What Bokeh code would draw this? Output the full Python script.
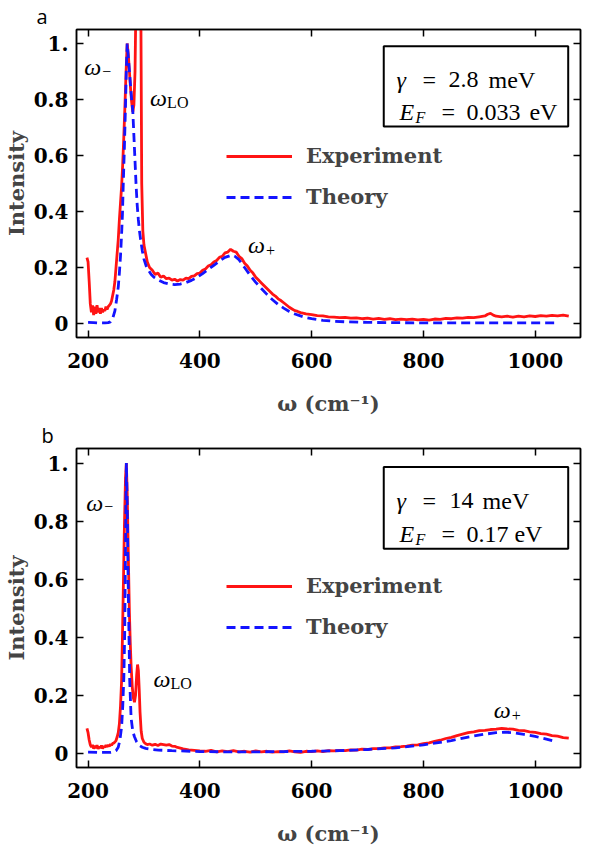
from bokeh.plotting import figure
from bokeh.models import Range1d, FixedTicker, LinearAxis, Label, BoxAnnotation, Legend, LegendItem, Title
from bokeh.layouts import column
from bokeh.embed import file_html
from bokeh.resources import INLINE

# ---------------- data ----------------
X_TICKS = [200, 400, 600, 800, 1000]
Y_TICKS = [0, 0.2, 0.4, 0.6, 0.8, 1.0]
Y_TICK_LABELS = ["0", "0.2", "0.4", "0.6", "0.8", "1."]

SERIES_NAMES = ["Experiment", "Theory"]

exp_a_x = [198, 200, 202, 204, 206, 208, 210, 212, 214, 216, 218, 220, 222, 224, 226, 228, 230, 232, 234, 236,
           238, 240, 242, 244, 246, 248, 250, 252, 254, 256, 258, 260, 262, 264, 266, 268, 270, 272, 274, 276,
           278, 280, 282, 284, 286, 288, 290, 292, 294, 296, 298, 300, 303, 306, 310, 315, 320, 325, 330, 335,
           340, 345, 350, 355, 360, 365, 370, 375, 380, 385, 390, 395, 400, 405, 410, 415, 420, 425, 430, 435,
           440, 445, 450, 455, 460, 465, 470, 475, 480, 485, 490, 495, 500, 505, 510, 515, 520, 525, 530, 535,
           540, 545, 550, 555, 560, 565, 570, 575, 580, 590, 600, 610, 620, 630, 640, 650, 660, 670, 680, 690,
           700, 710, 720, 730, 740, 750, 760, 770, 780, 790, 800, 810, 820, 830, 840, 850, 860, 870, 880, 890,
           900, 910, 915, 920, 925, 930, 940, 950, 960, 970, 980, 990, 1000, 1010, 1020, 1030, 1040, 1050, 1060]
exp_a_y = [0.235, 0.22, 0.15, 0.07, 0.04, 0.065, 0.03, 0.06, 0.035, 0.065, 0.04, 0.055, 0.035, 0.055, 0.04, 0.05,
           0.045, 0.06, 0.05, 0.06, 0.065, 0.07, 0.08, 0.1, 0.12, 0.15, 0.2, 0.25, 0.3, 0.37, 0.43, 0.49, 0.57,
           0.67, 0.78, 0.9, 1.0, 0.96, 0.9, 0.84, 0.79, 0.755, 0.78, 0.9, 1.2, 1.7, 2.1, 1.9, 1.3, 0.5, 0.33, 0.28,
           0.25, 0.22, 0.2, 0.19, 0.175, 0.18, 0.165, 0.17, 0.16, 0.162, 0.155, 0.158, 0.152, 0.157, 0.155, 0.162,
           0.16, 0.168, 0.17, 0.178, 0.18, 0.19, 0.195, 0.205, 0.21, 0.22, 0.225, 0.236, 0.24, 0.252, 0.255, 0.265,
           0.258, 0.255, 0.24, 0.232, 0.215, 0.205, 0.19, 0.18, 0.165, 0.155, 0.145, 0.135, 0.125, 0.115, 0.105,
           0.098, 0.088, 0.082, 0.074, 0.066, 0.058, 0.052, 0.046, 0.043, 0.039, 0.034, 0.032, 0.028, 0.027, 0.024,
           0.023, 0.021, 0.022, 0.019, 0.02, 0.017, 0.019, 0.016, 0.018, 0.015, 0.017, 0.014, 0.016, 0.014, 0.016,
           0.013, 0.015, 0.012, 0.016, 0.015, 0.018, 0.017, 0.02, 0.019, 0.022, 0.021, 0.024, 0.027, 0.033, 0.036,
           0.03, 0.026, 0.024, 0.026, 0.023, 0.026, 0.024, 0.027, 0.025, 0.028, 0.026, 0.029, 0.027, 0.03, 0.026]

theory_a_x = [200, 210, 220, 230, 236, 240, 244, 248, 251, 254, 256, 258, 260, 261.5, 263, 265, 267, 268.5, 270,
              272, 274, 276, 278, 280, 282, 284, 286, 288, 290, 292, 294, 297, 300, 304, 308, 313, 318, 326, 335,
              345, 355, 365, 375, 385, 395, 405, 415, 425, 435, 445, 455, 462, 470, 480, 490, 500, 510, 520, 530,
              540, 550, 560, 570, 580, 590, 600, 620, 640, 660, 700, 750, 800, 900, 1000, 1038]
theory_a_y = [0.004, 0.003, 0.002, 0.002, 0.003, 0.006, 0.018, 0.045, 0.085, 0.13, 0.18, 0.24, 0.32, 0.39, 0.5,
              0.63, 0.78, 0.91, 1.0, 0.95, 0.9, 0.85, 0.8, 0.76, 0.67, 0.58, 0.49, 0.42, 0.37, 0.33, 0.3, 0.26, 0.23,
              0.205, 0.19, 0.175, 0.165, 0.155, 0.146, 0.141, 0.139, 0.141, 0.146, 0.154, 0.165, 0.178, 0.193, 0.208,
              0.223, 0.236, 0.243, 0.241, 0.228, 0.2, 0.172, 0.147, 0.125, 0.104, 0.085, 0.068, 0.055, 0.043, 0.034,
              0.027, 0.021, 0.017, 0.011, 0.008, 0.006, 0.004, 0.003, 0.002, 0.002, 0.002, 0.002]

exp_b_x = [198, 200, 202, 204, 206, 208, 210, 212, 214, 216, 218, 220, 222, 224, 226, 228, 230, 232, 234, 236,
           238, 240, 242, 244, 246, 248, 250, 252, 254, 256, 258, 260, 261.5, 263, 265, 267, 268.5, 270, 272, 274,
           275.5, 277, 279, 281, 283, 285, 287, 288.5, 290, 291.5, 293, 295, 297, 300, 303, 306, 310, 315, 320,
           325, 330, 335, 340, 345, 350, 355, 360, 365, 370, 380, 390, 400, 410, 420, 430, 440, 450, 460, 470,
           480, 490, 500, 510, 520, 530, 540, 550, 560, 570, 580, 590, 600, 610, 620, 630, 640, 650, 660, 670,
           680, 690, 700, 710, 720, 730, 740, 750, 760, 770, 780, 790, 800, 810, 820, 830, 840, 850, 860, 870,
           880, 890, 900, 910, 920, 930, 940, 950, 960, 970, 980, 990, 1000, 1010, 1020, 1030, 1040, 1050, 1060]
exp_b_y = [0.085, 0.07, 0.045, 0.028, 0.02, 0.028, 0.015, 0.025, 0.017, 0.027, 0.014, 0.022, 0.017, 0.026, 0.015,
           0.024, 0.019, 0.027, 0.021, 0.028, 0.023, 0.03, 0.027, 0.033, 0.034, 0.038, 0.043, 0.055, 0.07, 0.1,
           0.16, 0.25, 0.4, 0.56, 0.78, 0.95, 1.0, 0.9, 0.68, 0.48, 0.38, 0.3, 0.23, 0.19, 0.175, 0.2, 0.27, 0.305,
           0.285, 0.22, 0.14, 0.075, 0.05, 0.037, 0.032, 0.029, 0.031, 0.027, 0.03, 0.026, 0.031, 0.029, 0.027,
           0.029, 0.024, 0.023, 0.019, 0.017, 0.014, 0.011, 0.009, 0.007, 0.006, 0.009, 0.004, 0.007, 0.005, 0.008,
           0.004, 0.006, 0.003, 0.007, 0.004, 0.006, 0.003, 0.005, 0.004, 0.007, 0.004, 0.002, 0.006, 0.005, 0.007,
           0.005, 0.008, 0.007, 0.009, 0.008, 0.011, 0.01, 0.013, 0.012, 0.015, 0.015, 0.018, 0.018, 0.021, 0.022,
           0.024, 0.027, 0.028, 0.032, 0.035, 0.04, 0.044, 0.05, 0.054, 0.06, 0.065, 0.07, 0.073, 0.077, 0.078,
           0.081, 0.082, 0.085, 0.083, 0.082, 0.078, 0.077, 0.073, 0.071, 0.067, 0.065, 0.06, 0.058, 0.053, 0.051]

theory_b_x = [200, 220, 240, 246, 250, 254, 257, 260, 262, 264, 265.5, 267, 268.5, 270, 271.5, 273, 274.5, 277,
              280, 283, 287, 291, 297, 303, 315, 326, 350, 400, 450, 500, 550, 600, 650, 700, 750, 800, 850, 880,
              910, 930, 945, 960, 980, 1000, 1020, 1038]
theory_b_y = [0.003, 0.002, 0.002, 0.004, 0.008, 0.02, 0.045, 0.09, 0.16, 0.26, 0.41, 0.7, 1.0, 0.86, 0.62, 0.43,
              0.25, 0.12, 0.075, 0.056, 0.038, 0.027, 0.02, 0.016, 0.012, 0.01, 0.008, 0.005, 0.004, 0.004, 0.005,
              0.006, 0.008, 0.012, 0.018, 0.028, 0.043, 0.055, 0.065, 0.07, 0.072, 0.07, 0.064, 0.057, 0.048, 0.039]

PARAMS_A = ("2.8", "0.033")
PARAMS_B = ("14", "0.17")

# ---------------- styling ----------------
BOLD_FONT = "DejaVu Serif"
MATH_FONT = "Liberation Serif"
RED = "#ff1414"
BLUE = "#1414ff"
X_START, X_END = 179.3, 1081
Y_START, Y_END = -0.05, 1.05


def style_axis(ax, ticks, show_labels):
    ax.ticker = FixedTicker(ticks=ticks)
    ax.major_tick_in = 7
    ax.major_tick_out = 0
    ax.minor_tick_in = 0
    ax.minor_tick_out = 0
    ax.axis_line_color = "black"
    ax.axis_line_width = 1.5
    ax.major_tick_line_color = "black"
    ax.major_tick_line_width = 1.5
    if show_labels:
        ax.major_label_text_font = BOLD_FONT
        ax.major_label_text_font_style = "bold"
        ax.major_label_text_font_size = "20px"
        ax.major_label_text_color = "black"
    else:
        ax.major_label_text_color = None
        ax.major_label_text_font_size = "2px"
        ax.major_label_standoff = 0


def put(p, x, y, text, dx=0, dy=0, size="24px", style="normal", font=MATH_FONT):
    p.add_layout(Label(x=x, y=y, text=text, x_offset=dx, y_offset=dy, text_font=font,
                       text_font_size=size, text_font_style=style, text_align="left",
                       text_baseline="alphabetic", text_color="black"))


def make_panel(ex, ey, tx, ty, height, border_top, letter, letter_dx, legend_y):
    title = Title(text=letter, align="left", offset=letter_dx, standoff=0,
                  text_font="Open Sans", text_font_size="20px", text_font_style="normal",
                  text_color="black")
    p = figure(width=584, height=height, x_range=Range1d(X_START, X_END), y_range=Range1d(Y_START, Y_END),
               output_backend="svg", toolbar_location=None, title=title,
               min_border_left=67, min_border_right=4, min_border_top=border_top,
               min_border_bottom=0)
    p.xgrid.visible = False
    p.ygrid.visible = False
    p.outline_line_color = "black"
    p.outline_line_width = 1.5
    p.background_fill_color = "white"

    style_axis(p.xaxis[0], X_TICKS, True)
    style_axis(p.yaxis[0], Y_TICKS, True)
    p.yaxis[0].major_label_overrides = {t: s for t, s in zip(Y_TICKS, Y_TICK_LABELS)}
    p.xaxis[0].major_label_standoff = 15
    p.yaxis[0].major_label_standoff = 8

    p.xaxis[0].axis_label = "\u03c9 (cm\u207b\u00b9)"
    p.xaxis[0].axis_label_text_font = BOLD_FONT
    p.xaxis[0].axis_label_text_font_style = "bold"
    p.xaxis[0].axis_label_text_font_size = "21px"
    p.xaxis[0].axis_label_standoff = 20
    p.yaxis[0].axis_label = "Intensity"
    p.yaxis[0].axis_label_text_font = BOLD_FONT
    p.yaxis[0].axis_label_text_font_style = "bold"
    p.yaxis[0].axis_label_text_font_size = "21px"
    p.yaxis[0].axis_label_standoff = 2

    top = LinearAxis()
    style_axis(top, X_TICKS, False)
    p.add_layout(top, "above")
    right = LinearAxis()
    style_axis(right, Y_TICKS, False)
    p.add_layout(right, "right")

    r_exp = p.line(ex, ey, line_color=RED, line_width=2.8)
    r_th = p.line(tx, ty, line_color=BLUE, line_width=2.8, line_dash="9 5")

    legend = Legend(items=[LegendItem(label=SERIES_NAMES[0], renderers=[r_exp]),
                           LegendItem(label=SERIES_NAMES[1], renderers=[r_th])],
                    location=(150, legend_y), glyph_width=66, glyph_height=24, label_height=24,
                    spacing=16, padding=0, margin=0, label_standoff=14,
                    border_line_alpha=0, background_fill_alpha=0,
                    label_text_font=BOLD_FONT, label_text_font_style="bold",
                    label_text_font_size="21px")
    p.add_layout(legend)
    return p


pa = make_panel(exp_a_x, exp_a_y, theory_a_x, theory_a_y, 418, 0, "a", -40, 128)
pb = make_panel(exp_b_x, exp_b_y, theory_b_x, theory_b_y, 430, 30, "b", -35, 128)

# annotations panel a
put(pa, 193, 0.915, "\u03c9", style="italic")
put(pa, 193, 0.915, "\u2212", dx=18, dy=-4, size="16px")
put(pa, 311, 0.807, "\u03c9", style="italic")
put(pa, 311, 0.807, "LO", dx=17, dy=-5, size="16px")
put(pa, 486, 0.279, "\u03c9", style="italic")
put(pa, 486, 0.279, "+", dx=18, dy=-5, size="16px")

# annotations panel b
put(pb, 196.6, 0.863, "\u03c9", style="italic")
put(pb, 196.6, 0.863, "\u2212", dx=18, dy=-4, size="16px")
put(pb, 317, 0.256, "\u03c9", style="italic")
put(pb, 317, 0.256, "LO", dx=17, dy=-5, size="16px")
put(pb, 926, 0.147, "\u03c9", style="italic")
put(pb, 926, 0.147, "+", dx=18, dy=-5, size="16px")


def param_box(p, gamma, ef, top_y):
    p.add_layout(BoxAnnotation(left=729, right=1059, top=top_y, bottom=0.704, fill_alpha=0,
                               line_color="black", line_alpha=1, line_width=2))
    put(p, 752, 0.87, "\u03b3", style="italic")
    put(p, 752, 0.87, "=", dx=26)
    put(p, 752, 0.87, gamma, dx=52 if len(gamma) > 2 else 53)
    put(p, 752, 0.87, "meV", dx=92 if len(gamma) > 2 else 86)
    put(p, 757, 0.755, "E", style="italic")
    put(p, 757, 0.755, "F", dx=16, dy=-5, size="16px", style="italic")
    put(p, 757, 0.755, "=", dx=42)
    put(p, 757, 0.755, ef, dx=67)
    put(p, 757, 0.755, "eV", dx=130 if len(ef) > 4 else 115)


param_box(pa, PARAMS_A[0], PARAMS_A[1], 0.99)
param_box(pb, PARAMS_B[0], PARAMS_B[1], 0.986)

layout = column(pa, pb, spacing=0)
open("out.html", "w").write(file_html(layout, INLINE))
